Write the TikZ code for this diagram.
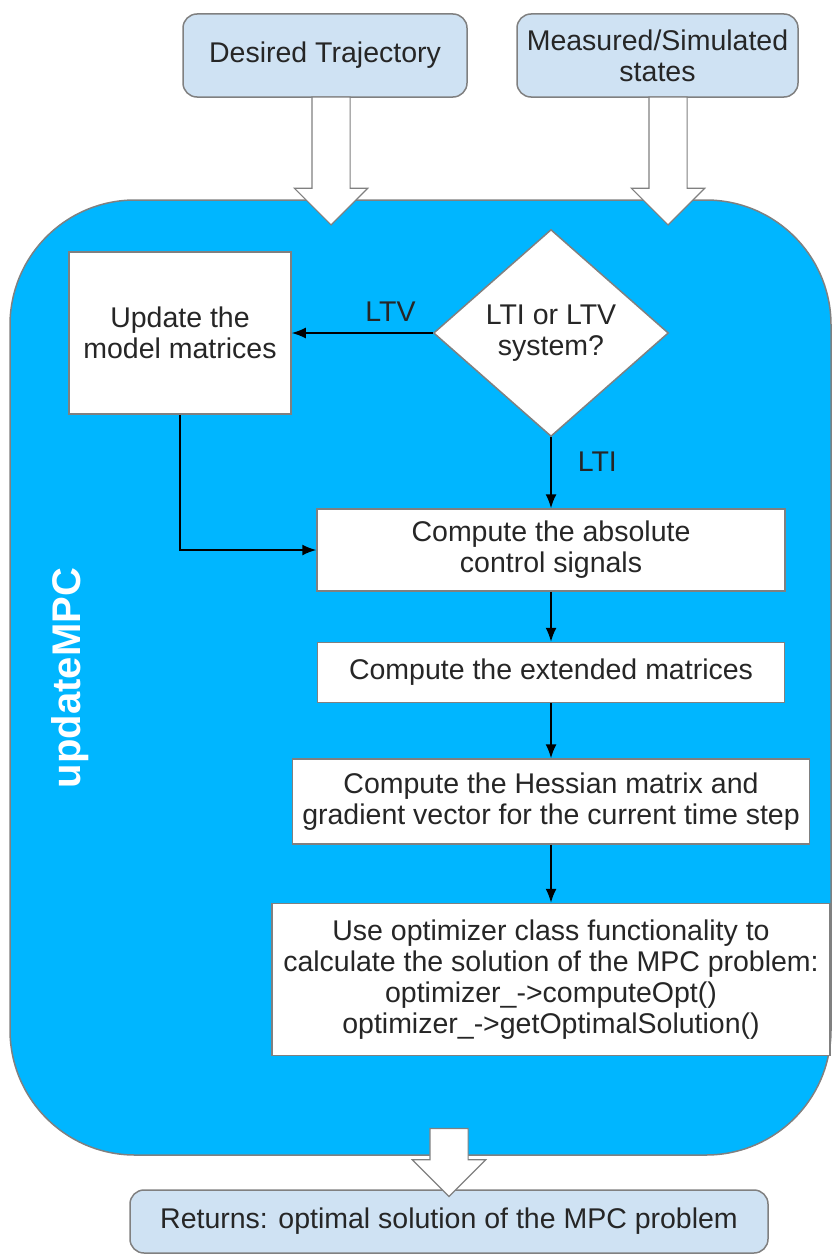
\documentclass[tikz,border=0pt]{standalone}
\usepackage{fontspec}
\setmainfont{Liberation Sans}
\usetikzlibrary{positioning,calc,arrows.meta,shapes.geometric,shapes.arrows}

\definecolor{framebg}{RGB}{0,182,255}
\definecolor{inputbg}{RGB}{207,226,243}
\definecolor{edgegray}{RGB}{128,128,128}

\begin{document}
\begin{tikzpicture}[
  x=1pt, y=1pt,
  node distance = 50pt and 140pt,
  base node/.style={
    draw=edgegray,
    line width=1.5pt,
    inner sep=0pt,
    align=center,
    text=black!85,
    font=\fontsize{28.5}{31}\selectfont,
  },
  io node/.style={
    base node,
    fill=inputbg,
    rounded corners=14pt,
    minimum height=83pt,
  },
  proc node/.style={
    base node,
    fill=white,
    minimum width=#1,
  },
  decision node/.style={
    base node,
    diamond,
    fill=white,
    minimum width=235pt,
    minimum height=207pt,
  },
  frame node/.style={
    draw=edgegray,
    line width=1.5pt,
    fill=framebg,
    rounded corners=125pt,
    inner sep=0pt,
  },
  fat arrow/.style={
    single arrow,
    draw=edgegray,
    fill=white,
    line width=1.2pt,
    rotate=-90,
    inner xsep=0pt,
    inner ysep=18.5pt,
    single arrow head extend=17.5pt,
    minimum height=#1,
  },
  label node/.style={
    font=\fontsize{28.5}{31}\selectfont,
    text=black!85,
    inner sep=2pt,
  },
  flow/.style={draw, line width=1.6pt, -{Latex[length=14pt,width=11pt]}},
  ]
  \useasboundingbox (0,0) rectangle (834,-1255);

  % the updateMPC block
  \node[frame node, minimum width=821pt, minimum height=955pt] (mpc)
  at (420.5,-677.5) {};
  \node[rotate=90, text=white, font=\fontsize{40}{44}\selectfont\bfseries]
  (mpclabel) at (70,-678) {updateMPC};

  % inputs and output
  \node[io node, minimum width=284pt] (traj) at (325,-55.5)
  {Desired Trajectory};
  \node[io node, minimum width=281pt] (states) at (657.5,-55.5)
  {Measured/Simulated\\states};
  \node[io node, minimum width=638pt, minimum height=63pt] (result)
  at (449,-1221.5) {Returns: optimal solution of the MPC problem};

  \node[fat arrow=128pt, anchor=tip] (in1) at ($(traj.south)+(6,-128)$) {};
  \node[fat arrow=128pt, anchor=tip] (in2) at ($(states.south)+(10.5,-128)$) {};
  \node[fat arrow=68pt, anchor=tip] (out) at ($(result.north)+(0,-8)$) {};

  % steps
  \node[decision node] (ltiq) at (551,-333) {LTI or LTV\\system?};
  \node[proc node=222pt, minimum height=162pt, left=141pt of ltiq] (update)
  {Update the\\model matrices};
  \node[proc node=468pt, minimum height=82pt, below=71pt of ltiq] (absctrl)
  {Compute the absolute\\control signals};
  \node[proc node=467pt, minimum height=60pt, below=50pt of absctrl] (extmat)
  {Compute the extended matrices};
  \node[proc node=517pt, minimum height=85pt, below=55pt of extmat] (hessian)
  {Compute the Hessian matrix and\\gradient vector for the current time step};
  \node[proc node=558pt, minimum height=152pt, below=58pt of hessian] (optim)
  {Use optimizer class functionality to\\
    calculate the solution of the MPC problem:\\
    optimizer\_->computeOpt()\\
    optimizer\_->getOptimalSolution()};

  \path[flow] (ltiq) -- node[label node, pos=0.3, above=9pt] (ltv) {LTV} (update);
  \path[flow] (ltiq) -- node[label node, pos=0.35, right=24pt] (lti) {LTI} (absctrl);
  \path[flow] (update) |- (absctrl);
  \path[flow] (absctrl) -- (extmat);
  \path[flow] (extmat) -- (hessian);
  \path[flow] (hessian) -- (optim);
\end{tikzpicture}
\end{document}
